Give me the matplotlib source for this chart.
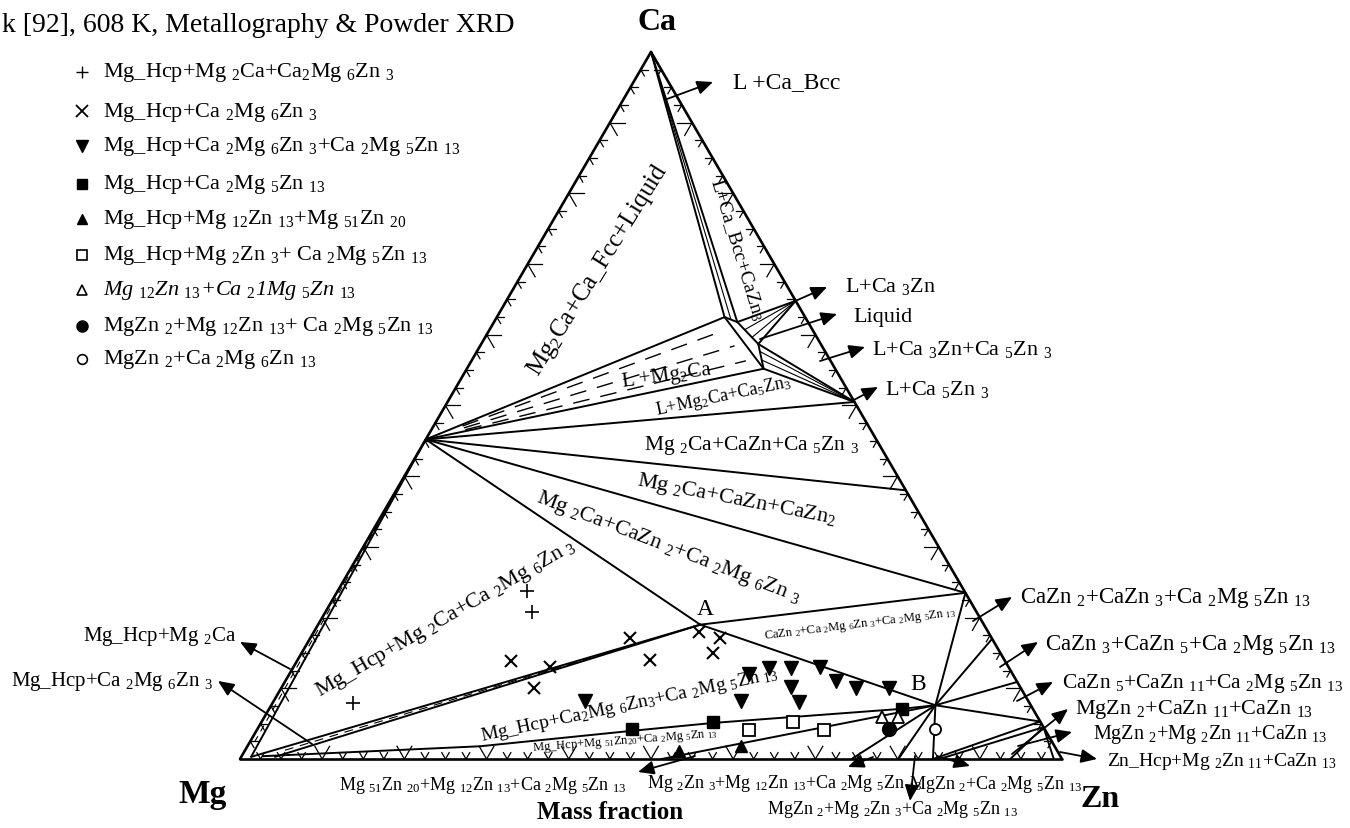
import numpy as np
import matplotlib
matplotlib.use("Agg")
import matplotlib.pyplot as plt
from matplotlib.transforms import Affine2D

plt.rcParams['font.family'] = ['Liberation Serif', 'DejaVu Serif']
plt.rcParams['mathtext.fontset'] = 'custom'
plt.rcParams['mathtext.rm'] = 'Liberation Serif'
plt.rcParams['mathtext.it'] = 'Liberation Serif:italic'
plt.rcParams['mathtext.bf'] = 'Liberation Serif:bold'

# ---------------- DATA: compositions as (mass fraction Zn, mass fraction Ca)
ca_apex  = (0.000, 1.000)
mg_apex  = (0.000, 0.000)
zn_apex  = (1.000, 0.000)
mg2ca    = (0.000, 0.452)
ca3zn    = (0.352, 0.648)
ca5zn3   = (0.495, 0.505)
cazn     = (0.620, 0.380)
cazn2    = (0.765, 0.235)
cazn3    = (0.830, 0.170)
cazn5    = (0.891, 0.109)
cazn11   = (0.947, 0.053)
cazn13   = (0.955, 0.045)
pt_A     = (0.465, 0.190)   # Ca2Mg6Zn3
pt_B     = (0.808, 0.076)   # Ca2Mg5Zn13
mg51zn20 = (0.513, 0.000)
mg12zn13 = (0.744, 0.000)
mg2zn3   = (0.801, 0.000)
mgzn2    = (0.843, 0.000)
mgzn2_b  = (0.851, 0.000)
mg2zn11  = (0.937, 0.000)
zn_hcp   = (0.990, 0.000)
hcp_a    = (0.012, 0.003)
hcp_b    = (0.041, 0.003)
liq1     = (0.277, 0.625)
liq2     = (0.296, 0.618)
liq3     = (0.337, 0.587)
liq4     = (0.361, 0.552)
hcp_curve_zn = [0.026, 0.283, 0.458, 0.550, 0.770, 0.808]
hcp_curve_ca = [0.004, 0.018, 0.040, 0.051, 0.071, 0.076]

# experimental points (Zn, Ca mass fractions)
plus_zn  = [0.230, 0.251, 0.098]
plus_ca  = [0.238, 0.208, 0.079]
cross_zn = [0.260, 0.312, 0.308, 0.389, 0.429, 0.469, 0.498, 0.501]
cross_ca = [0.139, 0.130, 0.100, 0.171, 0.140, 0.180, 0.171, 0.150]
tdown_zn = [0.379, 0.569, 0.559, 0.579, 0.606, 0.641, 0.619, 0.640, 0.670, 0.700, 0.739]
tdown_ca = [0.082, 0.082, 0.120, 0.129, 0.129, 0.130, 0.102, 0.081, 0.110, 0.100, 0.100]
sqf_zn   = [0.456, 0.549, 0.770]
sqf_ca   = [0.042, 0.052, 0.071]
sqo_zn   = [0.599, 0.647, 0.690]
sqo_ca   = [0.041, 0.052, 0.041]
tupo_zn  = [0.751, 0.771]
tupo_ca  = [0.059, 0.059]
circf_zn = [0.768]
circf_ca = [0.042]
circo_zn = [0.824]
circo_ca = [0.042]
tupf_zn  = [0.528, 0.600]
tupf_ca  = [0.011, 0.018]

legend_labels = [
    r"Mg_Hcp+Mg $_2$Ca+Ca$_2$Mg $_6$Zn $_3$",
    r"Mg_Hcp+Ca $_2$Mg $_6$Zn $_3$",
    r"Mg_Hcp+Ca $_2$Mg $_6$Zn $_3$+Ca $_2$Mg $_5$Zn $_{13}$",
    r"Mg_Hcp+Ca $_2$Mg $_5$Zn $_{13}$",
    r"Mg_Hcp+Mg $_{12}$Zn $_{13}$+Mg $_{51}$Zn $_{20}$",
    r"Mg_Hcp+Mg $_2$Zn $_3$+ Ca $_2$Mg $_5$Zn $_{13}$",
    r"Mg $_{12}$Zn $_{13}$+Ca $_2$1Mg $_5$Zn $_{13}$",
    r"MgZn $_2$+Mg $_{12}$Zn $_{13}$+ Ca $_2$Mg $_5$Zn $_{13}$",
    r"MgZn $_2$+Ca $_2$Mg $_6$Zn $_{13}$",
]

# ---------------- figure
W, H = 1350, 829
fig = plt.figure(figsize=(W / 100, H / 100), dpi=100)
ax = fig.add_axes([0, 0, 1, 1])
ax.set_xlim(-240 / 822, 1110 / 822)
ax.set_ylim(-69 / 816.4, 760 / 816.4)
ax.axis('off')
pix = Affine2D().scale(1 / W, -1 / H).translate(0, 1) + fig.transFigure
S3 = np.sqrt(3) / 2


def proj(zn, ca):
    zn = np.asarray(zn, float)
    ca = np.asarray(ca, float)
    return zn + ca / 2, ca * S3


def seg(p, q, lw=1.4, f0=0.0, f1=1.0, dashes=None):
    zn = np.array([p[0] + (q[0] - p[0]) * f0, p[0] + (q[0] - p[0]) * f1])
    ca = np.array([p[1] + (q[1] - p[1]) * f0, p[1] + (q[1] - p[1]) * f1])
    x, y = proj(zn, ca)
    line, = ax.plot(x, y, color='k', lw=lw, solid_capstyle='round')
    if dashes:
        line.set_dashes(dashes)


def lerp(p, q, t):
    return (p[0] + (q[0] - p[0]) * t, p[1] + (q[1] - p[1]) * t)


# triangle
seg(mg_apex, zn_apex, lw=1.9)
seg(mg_apex, ca_apex, lw=1.9)
seg(zn_apex, ca_apex, lw=1.9)

# ticks
for i in range(1, 40):
    v = i * 0.025
    L = 0.018 if i % 4 == 0 else 0.009
    pts_ = [((v, 0.0), [(0.5, S3), (-0.5, S3)]),
            ((0.5 * v, S3 * v), [(1.0, 0.0), (0.5, -S3)]),
            ((1 - 0.5 * v, S3 * v), [(-1.0, 0.0), (-0.5, -S3)])]
    for (x0, y0), dirs in pts_:
        for dx, dy in dirs:
            ax.plot([x0, x0 + L * dx], [y0, y0 + L * dy], color='k', lw=0.9)

# phase boundaries
main_lines = [
    (ca_apex, liq1), (ca_apex, liq2), (liq1, liq2), (liq1, liq4), (liq2, liq3), (liq3, liq4),
    (liq2, ca3zn), (liq3, ca3zn), (liq3, ca5zn3), (liq4, ca5zn3),
    (mg2ca, liq1), (mg2ca, liq4), (mg2ca, ca5zn3), (mg2ca, cazn), (mg2ca, cazn2), (mg2ca, pt_A),
    (pt_A, cazn2), (pt_A, pt_B), (pt_B, cazn2), (pt_B, cazn3), (pt_B, cazn5), (pt_B, cazn11),
    (pt_B, mgzn2), (pt_B, mg2zn3), (pt_B, mg12zn13), (pt_B, mg51zn20),
    (hcp_a, mg2ca), (hcp_a, pt_A), (hcp_b, pt_A),
    (cazn11, mgzn2), (cazn13, mgzn2_b), (cazn13, mg2zn11), (cazn13, zn_hcp),
]
for p, q in main_lines:
    seg(p, q)

x, y = proj(hcp_curve_zn, hcp_curve_ca)
ax.plot(x, y, color='k', lw=1.4)

# thin fan / strip lines
seg(ca_apex, lerp(liq1, liq2, 0.5), lw=0.8)
for t in (0.35, 0.7):
    seg(lerp(liq2, liq3, t), ca3zn, lw=0.8)
for t in (0.3, 0.65):
    seg(lerp(liq3, liq4, t), ca5zn3, lw=0.8)
for t in (0.2, 0.5, 0.8):
    seg(mg2ca, lerp(liq1, liq4, t), lw=1.0, f0=0.12, f1=0.97, dashes=(12, 8))
seg(lerp(mg_apex, hcp_a, 0.5), mg2ca, lw=0.8, f0=0.05, f1=0.9, dashes=(6, 5))
seg(lerp(hcp_a, hcp_b, 0.5), pt_A, lw=0.8, f0=0.05, f1=0.9, dashes=(8, 6))


# experimental points
def pts(zn, ca, **kw):
    xx, yy = proj(zn, ca)
    ax.plot(xx, yy, ls='none', color='k', **kw)


pts(plus_zn, plus_ca, marker='+', ms=10, mew=1.2)
pts(cross_zn, cross_ca, marker='x', ms=9, mew=1.5)
pts(tdown_zn, tdown_ca, marker='v', ms=10)
pts(sqf_zn, sqf_ca, marker='s', ms=8)
pts(sqo_zn, sqo_ca, marker='s', ms=8, mfc='white', mew=1.3)
pts(tupo_zn, tupo_ca, marker='^', ms=8, mfc='white', mew=1.3)
pts(circf_zn, circf_ca, marker='o', ms=10)
pts(circo_zn, circo_ca, marker='o', ms=8, mfc='white', mew=1.3)
pts(tupf_zn, tupf_ca, marker='^', ms=9)


# ---------------- texts
def T(px, py, s, size, rot=0, ha='center', va='center', **kw):
    ax.text(px, py, s, transform=pix, fontsize=size, rotation=rot, ha=ha, va=va,
            rotation_mode='anchor', **kw)


def AR(x1, y1, x2, y2):
    ax.annotate('', xy=(x2, y2), xytext=(x1, y1), xycoords=pix, textcoords=pix,
                arrowprops=dict(arrowstyle='-|>,head_length=0.8,head_width=0.35',
                                mutation_scale=12, color='k', lw=1.3,
                                shrinkA=0, shrinkB=0))


T(2, 25, "k [92], 608 K, Metallography & Powder XRD", 20, ha='left')

# legend
leg_y = [73, 112, 147, 185, 220, 256, 291, 327, 360]
leg_mk = [dict(marker='+', ms=9, mew=1.0), dict(marker='x', ms=8, mew=1.3),
          dict(marker='v', ms=8), dict(marker='s', ms=6.5), dict(marker='^', ms=7),
          dict(marker='s', ms=6.5, mfc='white', mew=1.2), dict(marker='^', ms=7, mfc='white', mew=1.2),
          dict(marker='o', ms=8), dict(marker='o', ms=7, mfc='white', mew=1.2)]
for yy, lab, mk in zip(leg_y, legend_labels, leg_mk):
    ax.plot([82], [yy], transform=pix, color='k', ls='none', **mk)
    style = 'italic' if lab.startswith('Mg $_{12}') else 'normal'
    T(103, yy, lab, 16, ha='left', style=style)

# vertex labels
T(657, 22, "Ca", 23, weight='bold')
T(203, 795, "Mg", 24, weight='bold')
T(1100, 800, "Zn", 23, weight='bold')
T(610, 813, "Mass fraction", 18, weight='bold')

# region labels
T(598, 270, r"Mg$_2$Ca+Ca_Fcc+Liquid", 18, rot=58)
T(737, 250, r"L+Ca_Bcc+CaZn$_3$", 14, rot=-73)
T(667, 376, r"L +Mg$_2$Ca", 15, rot=8)
T(723, 396, r"L+Mg$_2$Ca+Ca$_5$Zn$_3$", 13, rot=12)
T(752, 446, r"Mg $_2$Ca+CaZn+Ca $_5$Zn $_3$", 15.5)
T(737, 500, r"Mg $_2$Ca+CaZn+CaZn$_2$", 16, rot=-11)
T(668, 548, r"Mg $_2$Ca+CaZn $_2$+Ca $_2$Mg $_6$Zn $_3$", 16, rot=-21)
T(446, 619, r"Mg_Hcp+Mg $_2$Ca+Ca $_2$Mg $_6$Zn $_3$", 16, rot=30)
T(630, 705, r"Mg_Hcp+Ca$_2$Mg $_6$Zn$_3$+Ca $_2$Mg $_5$Zn $_{13}$", 14, rot=12)
T(625, 741, r"Mg_Hcp+Mg $_{51}$Zn$_{20}$+Ca $_2$Mg $_5$Zn $_{13}$", 9, rot=4.5)
T(860, 625, r"CaZn $_2$+Ca $_2$Mg $_6$Zn $_3$+Ca $_2$Mg $_5$Zn $_{13}$", 9, rot=7)
T(705, 610, "A", 17)
T(918, 685, "B", 17)

# top-right arrows
AR(667, 100, 713, 83); T(733, 83, "L +Ca_Bcc", 17, ha='left')
AR(793, 303, 827, 288); T(845, 287, r"L+Ca $_3$Zn", 16, ha='left')
AR(760, 340, 837, 315); T(853, 318, "Liquid", 16, ha='left')
AR(820, 362, 865, 348); T(872, 350, r"L+Ca $_3$Zn+Ca $_5$Zn $_3$", 16, ha='left')
AR(852, 402, 878, 388); T(885, 390, r"L+Ca $_5$Zn $_3$", 16, ha='left')

# right arrows
AR(973, 622, 1012, 598); T(1020, 598, r"CaZn $_2$+CaZn $_3$+Ca $_2$Mg $_5$Zn $_{13}$", 16.5, ha='left')
AR(1000, 668, 1038, 643); T(1045, 645, r"CaZn $_3$+CaZn $_5$+Ca $_2$Mg $_5$Zn $_{13}$", 16.5, ha='left')
AR(1017, 702, 1053, 683); T(1062, 684, r"CaZn $_5$+CaZn $_{11}$+Ca $_2$Mg $_5$Zn $_{13}$", 15.5, ha='left')
AR(1012, 755, 1068, 710); T(1075, 710, r"MgZn $_2$+CaZn $_{11}$+CaZn $_{13}$", 16, ha='left')
AR(1018, 747, 1072, 733); T(1093, 735, r"MgZn $_2$+Mg $_2$Zn $_{11}$+CaZn $_{13}$", 14.5, ha='left')
AR(1060, 753, 1097, 760); T(1107, 762, r"Zn_Hcp+Mg $_2$Zn $_{11}$+CaZn $_{13}$", 14, ha='left')

# left arrows
AR(290, 670, 240, 643); T(236, 637, r"Mg_Hcp+Mg $_2$Ca", 15, ha='right')
AR(312, 745, 218, 682); T(213, 682, r"Mg_Hcp+Ca $_2$Mg $_6$Zn $_3$", 15, ha='right')

# bottom arrows
AR(695, 757, 638, 773); T(483, 786, r"Mg $_{51}$Zn $_{20}$+Mg $_{12}$Zn $_{13}$+Ca $_2$Mg $_5$Zn $_{13}$", 13)
AR(873, 758, 848, 768); T(785, 784, r"Mg $_2$Zn $_3$+Mg $_{12}$Zn $_{13}$+Ca $_2$Mg $_5$Zn $_{13}$", 13)
AR(937, 757, 970, 767); T(996, 785, r"MgZn $_2$+Ca $_2$Mg $_5$Zn $_{13}$", 13)
AR(915, 757, 910, 802); T(893, 810, r"MgZn $_2$+Mg $_2$Zn $_3$+Ca $_2$Mg $_5$Zn $_{13}$", 13)

fig.savefig("out.png", dpi=100)
